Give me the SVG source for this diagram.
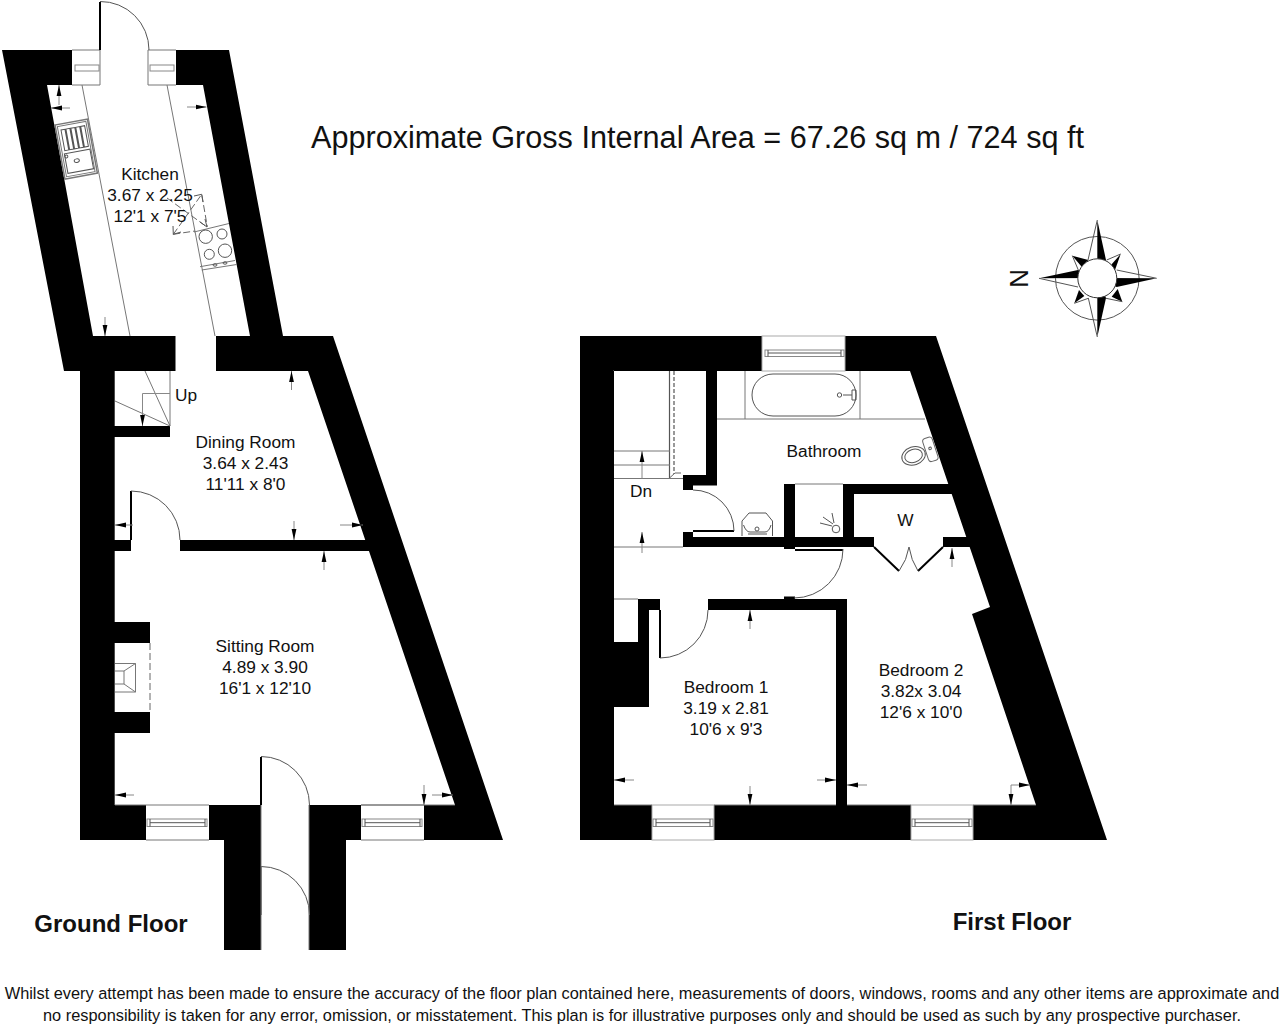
<svg xmlns="http://www.w3.org/2000/svg" width="1280" height="1032" viewBox="0 0 1280 1032">
<style>
text{font-family:"Liberation Sans",Arial,sans-serif;fill:#111;text-anchor:middle}
.r{font-size:17.300px}
.t{font-size:30.600px}
.b{font-size:24px;font-weight:bold}
.f{font-size:16.350px}
.w{fill:#000;stroke:none}
.g{fill:none;stroke:#777;stroke-width:1}
.d{fill:none;stroke:#555;stroke-width:1}
.da{fill:none;stroke:#666;stroke-width:1;stroke-dasharray:7 3}
.leaf{fill:none;stroke:#000;stroke-width:2}
.o{fill:#fff;stroke:#888;stroke-width:1}
.fr{fill:#fff;stroke:#aaa;stroke-width:1}
.a{fill:none;stroke:#888;stroke-width:1;marker-end:url(#ah)}
.cp{fill:#000;stroke:none}
</style>
<defs>
<marker id="ah" markerUnits="userSpaceOnUse" markerWidth="12" markerHeight="6" refX="11" refY="3" orient="auto"><path d="M0 0.6L11 3L0 5.4Z" fill="#000"/></marker>
</defs>
<rect width="1280" height="1032" fill="#fff"/>

<g id="ground-floor">
<g id="ground-walls">
<polygon class="w" points="2,50 72,50 72,85 47,85 93,336 175.500,336 175.500,371 114.700,371 114.700,840 80,840 80,371 64,371"/>
<polygon class="w" points="176,50 229,50 283,336 333,336 503,840 424,840 424,805 455,805 308,371 216,371 216,336 250,336 203,85 176,85"/>
<rect class="w" x="114" y="426" width="56" height="11"/>
<rect class="w" x="114" y="540" width="17" height="11"/>
<rect class="w" x="180" y="540" width="192" height="11"/>
<rect class="w" x="114" y="622" width="36" height="21"/>
<rect class="w" x="114" y="712" width="36" height="21"/>
<rect class="w" x="114" y="805" width="32" height="35"/>
<rect class="w" x="209" y="805" width="52" height="35"/>
<rect class="w" x="224" y="840" width="37" height="110"/>
<rect class="w" x="309" y="805" width="52" height="35"/>
<rect class="w" x="309" y="840" width="37" height="110"/>
</g>
<g id="kitchen-fittings">
<path class="g" d="M82 85L130 336M167 85L215 336"/>
<path class="g" d="M72 50H100V85H72M176 50H148V85H176"/>
<rect class="o" x="75" y="65" width="24" height="6"/>
<rect class="o" x="150" y="65" width="24" height="6"/>
<path class="leaf" d="M100 50V2"/>
<path class="d" d="M100 1.500A48.500 48.500 0 0 1 149 50"/>
<g transform="translate(55,125) rotate(-10.400)">
<rect x="0" y="0" width="33" height="55" fill="none" stroke="#777" stroke-width="1.500"/>
<rect class="g" x="2" y="2" width="29" height="51"/>
<path class="d" d="M5 27V6H9V27ZM10 27V6H14V27ZM15 27V6H19V27ZM20 27V6H24V27ZM25 27V6H29V27Z"/>
<rect class="d" x="4" y="30" width="26" height="20"/>
<ellipse class="d" cx="15" cy="39" rx="2.600" ry="1.800"/>
<circle class="d" cx="5.500" cy="33" r="1.500"/>
</g>
<path class="g" d="M194 232L229 223.500M200 266.700L235 260.500M201.700 270L236.700 264.500"/>
<circle class="d" cx="205.700" cy="236.700" r="6.700"/>
<circle class="d" cx="222" cy="234" r="5"/>
<circle class="d" cx="209.300" cy="254.300" r="5"/>
<circle class="d" cx="225" cy="250.700" r="6.700"/>
<ellipse class="d" cx="215" cy="265" rx="2" ry="1.200"/>
<ellipse class="d" cx="225" cy="263" rx="2" ry="1.200"/>
<path class="da" d="M167 198L207 227M173.300 234.300L201.700 194.300L207.300 226.700M173.300 234.300L195 231"/>
<path class="d" d="M173 226L173.300 234.300L181 232M194 196L201.700 194.300L203 202M200 222L207 227L205 219"/>
</g>
<g id="stairs-up">
<path class="g" d="M170 371V426M145 371L170 426M115 401L170 426"/>
<path class="a" d="M170 393.500H142.500V426"/>
</g>
<g id="doors-windows-ground">
<path class="leaf" d="M131 540V491"/>
<path class="d" d="M131 491A49 49 0 0 1 180 540"/>
<path class="leaf" d="M261 805V757"/>
<path class="d" d="M261 756.500A48.500 48.500 0 0 1 309.500 805"/>
<path class="leaf" d="M260.500 915V867" stroke-width="1.500"/>
<path class="d" d="M261 866.500A48.500 48.500 0 0 1 309.500 915"/>
<path class="g" d="M261 805V950M309 805V950"/>
<path class="g" d="M146 805H209M146 840H209M361 805H424M361 840H424M115 805H146M361 805H455"/>
<rect class="o" x="147" y="819" width="60" height="7.500"/>
<rect class="o" x="362" y="819" width="60" height="7.500"/>
<path class="d" d="M150 819V826.500M205 819V826.500M365 819V826.500M420 819V826.500M150 822.700H205M365 822.700H420"/>
</g>
<g id="fireplace">
<path class="da" d="M150 643V712"/>
<path class="g" d="M115 663.500H135.500V692H115M115 671H124V684H115M124 671L135.500 663.500M124 684L135.500 692"/>
</g>
<g id="ground-dimension-arrows">
<path class="a" d="M59 105V85"/>
<path class="a" d="M70 108H51"/>
<path class="a" d="M187 107H206.500"/>
<path class="a" d="M105 317V336"/>
<path class="a" d="M291.500 390V371"/>
<path class="a" d="M294 521V540"/>
<path class="a" d="M340 525H363"/>
<path class="a" d="M133 525H115"/>
<path class="a" d="M324 570V551"/>
<path class="a" d="M134 795H115"/>
<path class="a" d="M424 785V805"/>
<path class="a" d="M432 795H453"/>
</g>
<g id="ground-labels">
<text class="r" x="150" y="180">Kitchen</text>
<text class="r" x="150" y="201">3.67 x 2.25</text>
<text class="r" x="150" y="222">12'1 x 7'5</text>
<text class="r" x="186" y="400.500">Up</text>
<text class="r" x="245.500" y="448">Dining Room</text>
<text class="r" x="245.500" y="469">3.64 x 2.43</text>
<text class="r" x="245.500" y="489.500">11'11 x 8'0</text>
<text class="r" x="265" y="652">Sitting Room</text>
<text class="r" x="265" y="673">4.89 x 3.90</text>
<text class="r" x="265" y="694">16'1 x 12'10</text>
<text class="b" x="111" y="932">Ground Floor</text>
</g>
</g>

<g id="first-floor">
<g id="first-walls">
<polygon class="w" points="580,336 936,336 1107,840 580,840 580,336 614,371 614,805 1036,805 972,614 990,607 910,371 614,371"/>
<rect class="w" x="706" y="371" width="11" height="114"/>
<rect class="w" x="683" y="475" width="34" height="10.500"/>
<rect class="w" x="683" y="475" width="10" height="15"/>
<rect class="w" x="683" y="532" width="10" height="15"/>
<rect class="w" x="683" y="537" width="191" height="10"/>
<rect class="w" x="784" y="484" width="11" height="65"/>
<rect class="w" x="843" y="484" width="11" height="63"/>
<rect class="w" x="843" y="484" width="112" height="10"/>
<rect class="w" x="943" y="537" width="32" height="10"/>
<rect class="w" x="638" y="599" width="22" height="11"/>
<rect class="w" x="708" y="599" width="139" height="11"/>
<rect class="w" x="784" y="596.500" width="11" height="3"/>
<rect class="w" x="836" y="599" width="11" height="206"/>
<rect class="w" x="638" y="599" width="11" height="50"/>
<rect class="w" x="614" y="642" width="35" height="65"/>
</g>
<g id="first-openings">
<rect class="fr" x="762" y="336" width="83" height="35"/>
<rect class="o" x="765" y="350" width="79" height="6.500"/>
<path class="d" d="M768 350V356.500M841 350V356.500M768 353H841"/>
<rect class="fr" x="652" y="805" width="62" height="35"/>
<rect class="o" x="653" y="819" width="60" height="7.500"/>
<path class="d" d="M656 819V826.500M710 819V826.500M656 822.700H710"/>
<rect class="fr" x="911" y="805" width="62" height="35"/>
<rect class="o" x="912" y="819" width="60" height="7.500"/>
<path class="d" d="M915 819V826.500M969 819V826.500M915 822.700H969"/>
<path class="g" d="M614 805H652M714 805H836M847 805H911M973 805H1036"/>
</g>
<g id="stairs-down">
<path d="M669.500 371V478" fill="none" stroke="#555" stroke-width="1.200"/>
<path d="M674 371V474" fill="none" stroke="#555" stroke-width="1.200" stroke-dasharray="4 2"/>
<path d="M669.500 478L675 473H681" fill="none" stroke="#666"/>
<path class="g" d="M614 451H670M614 465H670M614 478.500H683"/>
<path class="a" d="M642 478.500V451"/>
<path class="g" d="M614 547H683M614 599H638"/>
<path class="a" d="M642 553V532"/>
</g>
<g id="bathroom-fittings">
<path class="g" d="M717 419H925M745 371V419M860 371V419"/>
<rect class="d" x="752" y="374" width="104" height="42" rx="21" ry="21"/>
<circle class="d" cx="839.500" cy="395" r="2.200"/>
<path class="d" d="M843 395H852M852 390H856V400H852Z"/>
<g transform="translate(925,449) rotate(-18)">
<ellipse class="d" cx="-13" cy="3" rx="12" ry="9"/>
<ellipse class="d" cx="-13" cy="3" rx="9" ry="6.500"/>
<rect x="0" y="-10" width="10" height="24" rx="3" fill="#fff" stroke="#666"/>
<circle class="d" cx="5" cy="1" r="1.300"/>
</g>
<path class="d" d="M742 536V521L749 513H766L772.500 521V536"/>
<path class="d" d="M743.500 525Q746 532 750 532H765Q769 532 771 525"/>
<path class="d" d="M748 534H767"/>
<circle class="d" cx="757" cy="529" r="2"/>
<path class="g" d="M795 484H843"/>
<circle class="d" cx="836" cy="529" r="3.800"/>
<path class="d" d="M832 526L820 523M833 524L823 517M834 523L832 513"/>
</g>
<g id="first-doors">
<path class="leaf" d="M693 531H734" stroke-width="1.500"/>
<path class="d" d="M693 490A41 41 0 0 1 734 531"/>
<path class="leaf" d="M795 550H843" stroke-width="1.500"/>
<path class="d" d="M843 549A49 49 0 0 1 794 598"/>
<path class="leaf" d="M660 610V658" stroke-width="1.500"/>
<path class="d" d="M708 610A48 48 0 0 1 660 658"/>
<path class="leaf" d="M874 547L899 571M943 547L918 571"/>
<path class="d" d="M899 571Q907 560 909 547Q911 560 918 571"/>
</g>
<g id="first-dimension-arrows">
<path class="a" d="M952 567V548"/>
<path class="a" d="M750 629V610"/>
<path class="a" d="M634 780H614"/>
<path class="a" d="M817 780H836"/>
<path class="a" d="M750 786V805"/>
<path class="a" d="M867 785H847"/>
<path class="a" d="M1011 785H1030"/>
<path class="a" d="M1011 785V805"/>
</g>
<g id="first-labels">
<text class="r" x="824" y="456.500">Bathroom</text>
<text class="r" x="641" y="497">Dn</text>
<text class="r" x="905.500" y="526">W</text>
<text class="r" x="726" y="693">Bedroom 1</text>
<text class="r" x="726" y="714">3.19 x 2.81</text>
<text class="r" x="726" y="735">10'6 x 9'3</text>
<text class="r" x="921" y="676">Bedroom 2</text>
<text class="r" x="921" y="697">3.82x 3.04</text>
<text class="r" x="921" y="718">12'6 x 10'0</text>
<text class="b" x="1012" y="930">First Floor</text>
</g>
</g>

<g id="compass">
<circle cx="1097.300" cy="278.300" r="41.800" fill="none" stroke="#555"/>
<path class="cp" d="M1097.300 220L1106 260L1097.300 278Z"/>
<path class="cp" d="M1156.700 278.300L1116.700 287L1097.300 278Z"/>
<path class="cp" d="M1097.300 337L1106 298L1097.300 278Z"/>
<path class="cp" d="M1039 278.300L1078 270L1097.300 278Z"/>
<path class="cp" d="M1120.700 254L1111 265L1115 270Z"/>
<path class="cp" d="M1072.300 255.700L1088.300 260L1081.700 266.700Z"/>
<path class="cp" d="M1074.300 303.300L1079 290L1084.300 296Z"/>
<path class="cp" d="M1122.300 301.700L1117.700 289L1111.700 296.700Z"/>
<path d="M1097.300 220L1088 260M1097.300 337L1088.300 298M1156.700 278.300L1116.700 270M1039 278.300L1078 287M1120.700 254L1106.700 260M1072.300 255.700L1078.300 270M1074.300 303.300L1088.300 298.300M1122.300 301.700L1106 298.300" fill="none" stroke="#555"/>
<circle cx="1097.300" cy="278.300" r="19.500" fill="#fff" stroke="#333"/>
<text x="1010" y="278.500" font-size="26" transform="rotate(90 1010 278.500)">N</text>
</g>

<g id="captions">
<text class="t" x="697.500" y="148">Approximate Gross Internal Area = 67.26 sq m / 724 sq ft</text>
<text class="f" x="642" y="999">Whilst every attempt has been made to ensure the accuracy of the floor plan contained here, measurements of doors, windows, rooms and any other items are approximate and</text>
<text class="f" x="642" y="1021">no responsibility is taken for any error, omission, or misstatement. This plan is for illustrative purposes only and should be used as such by any prospective purchaser.</text>
</g>
</svg>
